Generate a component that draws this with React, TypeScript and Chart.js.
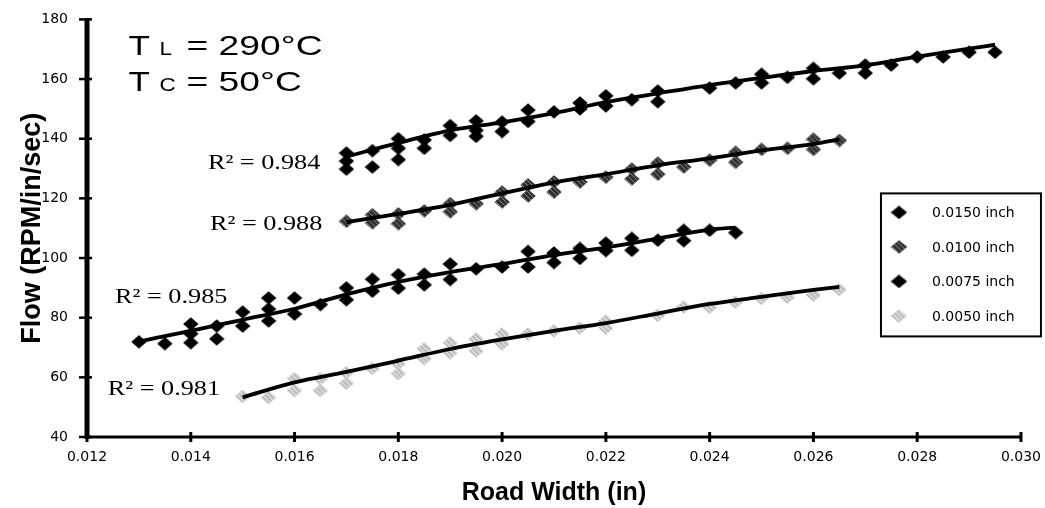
import { useEffect, useRef } from "react";
import { Chart, registerables } from "chart.js";

Chart.register(...registerables);

// ---------- data ----------
const SERIES_LABELS = ["0.0150 inch", "0.0100 inch", "0.0075 inch", "0.0050 inch"];

const X_TICK_VALUES = [0.012, 0.014, 0.016, 0.018, 0.02, 0.022, 0.024, 0.026, 0.028, 0.03];
const X_TICK_LABELS = ["0.012", "0.014", "0.016", "0.018", "0.020", "0.022", "0.024", "0.026", "0.028", "0.030"];
const Y_TICK_VALUES = [40, 60, 80, 100, 120, 140, 160, 180];
const Y_TICK_LABELS = ["40", "60", "80", "100", "120", "140", "160", "180"];

// 0.0150 inch
const xA = [0.017, 0.017, 0.017, 0.0175, 0.0175, 0.018, 0.018, 0.018, 0.0185, 0.0185, 0.019, 0.019, 0.0195, 0.0195, 0.0195, 0.02, 0.02, 0.0205, 0.0205, 0.021, 0.0215, 0.0215, 0.022, 0.022, 0.0225, 0.023, 0.023, 0.024, 0.0245, 0.025, 0.025, 0.0255, 0.026, 0.026, 0.0265, 0.027, 0.027, 0.0275, 0.028, 0.0285, 0.029, 0.0295];
const yA = [135.2, 132.5, 129.8, 136, 130.5, 140, 136.8, 133, 139.6, 136.8, 144.4, 141.1, 146, 142.8, 140.8, 145.6, 142.4, 149.6, 145.8, 149, 152, 150, 154.4, 151, 153.1, 156, 152.4, 157, 158.7, 161.6, 158.7, 160.6, 163.6, 160.1, 162, 164.7, 162, 164.7, 167.4, 167.4, 169, 169];

// 0.0100 inch
const xB = [0.017, 0.0175, 0.0175, 0.018, 0.018, 0.0185, 0.019, 0.019, 0.0195, 0.02, 0.02, 0.0205, 0.0205, 0.021, 0.021, 0.0215, 0.022, 0.0225, 0.0225, 0.023, 0.023, 0.0235, 0.024, 0.0245, 0.0245, 0.025, 0.0255, 0.026, 0.026, 0.0265];
const yB = [112.3, 114.5, 111.8, 114.8, 111.5, 115.8, 118.2, 115.5, 118.2, 122.1, 118.8, 124.5, 120.8, 125.5, 122.1, 125.5, 127.1, 129.8, 126.5, 131.8, 128.1, 130.5, 132.8, 135.4, 132.1, 136.4, 136.8, 139.8, 136.4, 139.4];

// 0.0075 inch
const xC = [0.013, 0.0135, 0.014, 0.014, 0.014, 0.0145, 0.0145, 0.015, 0.015, 0.0155, 0.0155, 0.0155, 0.016, 0.016, 0.0165, 0.017, 0.017, 0.0175, 0.0175, 0.018, 0.018, 0.0185, 0.0185, 0.019, 0.019, 0.0195, 0.02, 0.0205, 0.0205, 0.021, 0.021, 0.0215, 0.0215, 0.022, 0.022, 0.0225, 0.0225, 0.023, 0.0235, 0.0235, 0.024, 0.0245];
const yC = [71.9, 71.3, 77.9, 74.6, 71.6, 77.2, 72.9, 81.9, 77.2, 86.6, 82.9, 78.9, 86.6, 81.2, 84.4, 90, 86, 92.9, 88.9, 94.4, 89.9, 94.6, 91, 98, 92.8, 96.4, 97, 102.2, 97, 101.7, 98.5, 103.2, 99.9, 105, 102.5, 106.6, 102.6, 106, 109.3, 105.8, 109.3, 108.5];

// 0.0050 inch
const xD = [0.015, 0.0155, 0.016, 0.016, 0.0165, 0.0165, 0.017, 0.017, 0.0175, 0.018, 0.018, 0.0185, 0.0185, 0.019, 0.019, 0.0195, 0.0195, 0.02, 0.02, 0.0205, 0.021, 0.0215, 0.022, 0.022, 0.023, 0.0235, 0.024, 0.0245, 0.025, 0.0255, 0.026, 0.0265];
const yD = [53.6, 53.3, 59.6, 55.6, 59.6, 55.6, 61.6, 58, 63, 64.6, 61.3, 69.6, 66.3, 71.6, 68.3, 72.9, 68.9, 74.6, 71.3, 74.6, 75.6, 76.6, 78.9, 76.6, 80.8, 83.6, 83.5, 85.2, 86.5, 86.9, 87.6, 89.5];

// trend lines
const tAx = [0.017, 0.018, 0.019, 0.02, 0.021, 0.022, 0.023, 0.024, 0.025, 0.026, 0.027, 0.028, 0.029, 0.0295];
const tAy = [134, 138.6, 142.8, 145.5, 148.6, 152.3, 155.2, 158, 160.4, 162.7, 164.6, 167.5, 170.2, 171.5];
const tBx = [0.017, 0.018, 0.019, 0.02, 0.021, 0.022, 0.023, 0.024, 0.025, 0.026, 0.0265];
const tBy = [112, 114.8, 117.8, 121.7, 125.3, 128.1, 131.1, 133.4, 136.1, 138.2, 139.8];
const tCx = [0.013, 0.014, 0.015, 0.016, 0.017, 0.018, 0.019, 0.02, 0.021, 0.022, 0.023, 0.024, 0.0245];
const tCy = [72, 75.6, 79.3, 83, 87.8, 92, 95.3, 98, 101, 103.5, 106.5, 109.5, 110.2];
const tDx = [0.015, 0.016, 0.017, 0.018, 0.019, 0.02, 0.021, 0.022, 0.023, 0.024, 0.025, 0.026, 0.0265];
const tDy = [53.3, 58.3, 61.8, 65.6, 69.5, 72.7, 75.6, 78.2, 81.4, 84.6, 87, 89.3, 90.3];

// annotation texts and their anchors (data coordinates)
const R2_TEXTS = ["R² = 0.984", "R² = 0.988", "R² = 0.985", "R² = 0.981"];
const R2_X = [0.01433, 0.01437, 0.01254, 0.0124];
const R2_Y = [129.8, 109.5, 84.9, 54];
const TEMP_MAIN = ["T", "T"];
const TEMP_SUB = ["L", "C"];
const TEMP_REST = ["= 290°C", "= 50°C"];
const TEMP_X = [0.0128, 0.0128];
const TEMP_Y = [168, 156.1];

const X_TITLE = "Road Width (in)";
const Y_TITLE = "Flow (RPM/in/sec)";

const zip = (xs: number[], ys: number[]) => xs.map((x, i) => ({ x, y: ys[i] }));

function makeMarker(fill: string, speck: string | null, w: number, h: number) {
  const c = document.createElement("canvas");
  c.width = w;
  c.height = h;
  const g = c.getContext("2d")!;
  g.beginPath();
  g.moveTo(w / 2, 0.3);
  g.lineTo(w - 0.3, h / 2);
  g.lineTo(w / 2, h - 0.3);
  g.lineTo(0.3, h / 2);
  g.closePath();
  g.fillStyle = fill;
  g.fill();
  if (speck) {
    g.save();
    g.clip();
    g.fillStyle = speck;
    for (let i = 0; i < w; i++)
      for (let j = 0; j < h; j++) if ((i * 2 + j * 3) % 5 === 0) g.fillRect(i, j, 1, 1);
    g.restore();
  }
  return c;
}

export default function App() {
  const ref = useRef<HTMLCanvasElement | null>(null);

  useEffect(() => {
    const canvas = ref.current;
    if (!canvas) return;

    const markerStyles = [
      ["#000000", null],
      ["#2e2e2e", "#8a8a8a"],
      ["#000000", null],
      ["#d6d6d6", "#9a9a9a"],
    ] as [string, string | null][];
    const markers = markerStyles.map(([f, s]) => makeMarker(f, s, 16, 14));
    const legendMarkers = markerStyles.map(([f, s]) => makeMarker(f, s, 17, 14));

    const seriesX = [xA, xB, xC, xD];
    const seriesY = [yA, yB, yC, yD];
    const trendX = [tAx, tBx, tCx, tDx];
    const trendY = [tAy, tBy, tCy, tDy];

    const scatterSets = SERIES_LABELS.map((label, i) => ({
      type: "scatter" as const,
      label,
      data: zip(seriesX[i], seriesY[i]),
      pointStyle: markers[i],
      pointRadius: 6,
      order: 2,
    }));
    const trendSets = SERIES_LABELS.map((label, i) => ({
      type: "line" as const,
      label: label + " trend",
      data: zip(trendX[i], trendY[i]),
      borderColor: "#000000",
      borderWidth: 3.8,
      pointRadius: 0,
      tension: 0.4,
      cubicInterpolationMode: "monotone" as const,
      fill: false,
      order: 1,
    }));

    const axesPlugin = {
      id: "axesDraw",
      afterDatasetsDraw(chart: any) {
        const { ctx, chartArea: a, scales } = chart;
        ctx.save();
        ctx.strokeStyle = "#000";
        ctx.lineWidth = 5;
        ctx.beginPath();
        ctx.moveTo(a.left, a.top - 1);
        ctx.lineTo(a.left, a.bottom + 2);
        ctx.stroke();
        ctx.lineWidth = 3;
        ctx.beginPath();
        ctx.moveTo(a.left, a.bottom);
        ctx.lineTo(a.right + 1, a.bottom);
        ctx.stroke();
        ctx.lineWidth = 2.5;
        scales.y.ticks.forEach((t: any) => {
          const py = scales.y.getPixelForValue(t.value);
          ctx.beginPath();
          ctx.moveTo(a.left - 8, py);
          ctx.lineTo(a.left + 5, py);
          ctx.stroke();
        });
        ctx.lineWidth = 3;
        scales.x.ticks.forEach((t: any) => {
          const px = scales.x.getPixelForValue(t.value);
          ctx.beginPath();
          ctx.moveTo(px, a.bottom - 5);
          ctx.lineTo(px, a.bottom + 5);
          ctx.stroke();
        });
        ctx.restore();
      },
    };

    const textPlugin = {
      id: "textDraw",
      afterDraw(chart: any) {
        const { ctx, scales } = chart;
        const sx = scales.x, sy = scales.y;
        ctx.save();
        ctx.fillStyle = "#000";
        ctx.textBaseline = "alphabetic";
        ctx.textAlign = "left";
        // R² labels
        R2_TEXTS.forEach((t, i) => {
          const px = sx.getPixelForValue(R2_X[i]);
          const py = sy.getPixelForValue(R2_Y[i]);
          ctx.save();
          ctx.translate(px, py);
          ctx.scale(1.25, 1);
          ctx.font = "21px 'Liberation Serif', 'Times New Roman', serif";
          ctx.fillText(t, 0, 0);
          ctx.restore();
        });
        // temperature labels
        TEMP_MAIN.forEach((t, i) => {
          const px = sx.getPixelForValue(TEMP_X[i]);
          const py = sy.getPixelForValue(TEMP_Y[i]);
          ctx.save();
          ctx.translate(px, py);
          ctx.save();
          ctx.scale(1.25, 1);
          ctx.font = "28px 'Liberation Sans', Arial, sans-serif";
          ctx.fillText(t, 0, 0);
          ctx.font = "18px 'Liberation Sans', Arial, sans-serif";
          ctx.fillText(TEMP_SUB[i], 31 / 1.25, 0);
          ctx.restore();
          ctx.scale(1.33, 1);
          ctx.font = "28px 'Liberation Sans', Arial, sans-serif";
          ctx.fillText(TEMP_REST[i], 58 / 1.33, 0);
          ctx.restore();
        });
        // legend box
        const a = chart.chartArea;
        const bx = a.right - 140, by = a.top + 174, bw = 160, bh = 143;
        ctx.fillStyle = "#fff";
        ctx.fillRect(bx, by, bw, bh);
        ctx.strokeStyle = "#000";
        ctx.lineWidth = 2;
        ctx.strokeRect(bx, by, bw, bh);
        ctx.fillStyle = "#000";
        ctx.font = "14px 'DejaVu Sans', sans-serif";
        ctx.textBaseline = "middle";
        SERIES_LABELS.forEach((lab, i) => {
          const cy = by + 19 + i * 34.5;
          const m = legendMarkers[i];
          ctx.drawImage(m, bx + 18 - m.width / 2, cy - m.height / 2);
          ctx.fillText(lab, bx + 51, cy + 1);
        });
        ctx.restore();
      },
    };

    const chart = new Chart(canvas, {
      type: "scatter",
      data: { datasets: [...trendSets, ...scatterSets] as any },
      options: {
        responsive: false,
        animation: false,
        devicePixelRatio: 1,
        layout: { padding: { left: 0, right: 23, top: 16, bottom: 0 } },
        plugins: { legend: { display: false }, tooltip: { enabled: false } },
        scales: {
          x: {
            type: "linear",
            min: 0.012,
            max: 0.03,
            afterBuildTicks: (s: any) => {
              s.ticks = X_TICK_VALUES.map((v) => ({ value: v }));
            },
            afterFit: (s: any) => {
              s.height = 71;
            },
            grid: { display: false },
            border: { display: false },
            ticks: {
              color: "#000",
              padding: 4,
              maxRotation: 0,
              autoSkip: false,
              font: { family: "'DejaVu Sans', sans-serif", size: 14 },
              callback: (_v: any, i: number) => X_TICK_LABELS[i],
            },
            title: {
              display: true,
              text: X_TITLE,
              color: "#000",
              font: { family: "'Liberation Sans', Arial, sans-serif", size: 25, weight: "bold" },
              padding: { top: 0, bottom: 0 },
            },
          },
          y: {
            type: "linear",
            min: 40,
            max: 180,
            afterBuildTicks: (s: any) => {
              s.ticks = Y_TICK_VALUES.map((v) => ({ value: v }));
            },
            afterFit: (s: any) => {
              s.width = 87;
            },
            grid: { display: false },
            border: { display: false },
            ticks: {
              color: "#000",
              padding: 11,
              autoSkip: false,
              font: { family: "'DejaVu Sans', sans-serif", size: 14 },
              callback: (_v: any, i: number) => Y_TICK_LABELS[i],
            },
            title: {
              display: true,
              text: Y_TITLE,
              color: "#000",
              font: { family: "'Liberation Sans', Arial, sans-serif", size: 27, weight: "bold" },
              padding: { top: 16, bottom: 0 },
            },
          },
        },
      },
      plugins: [axesPlugin, textPlugin],
    });

    return () => chart.destroy();
  }, []);

  return (
    <div style={{ position: "absolute", left: 0, top: 0, width: 1045, height: 508, background: "#fff" }}>
      <canvas ref={ref} width={1045} height={508} />
    </div>
  );
}
